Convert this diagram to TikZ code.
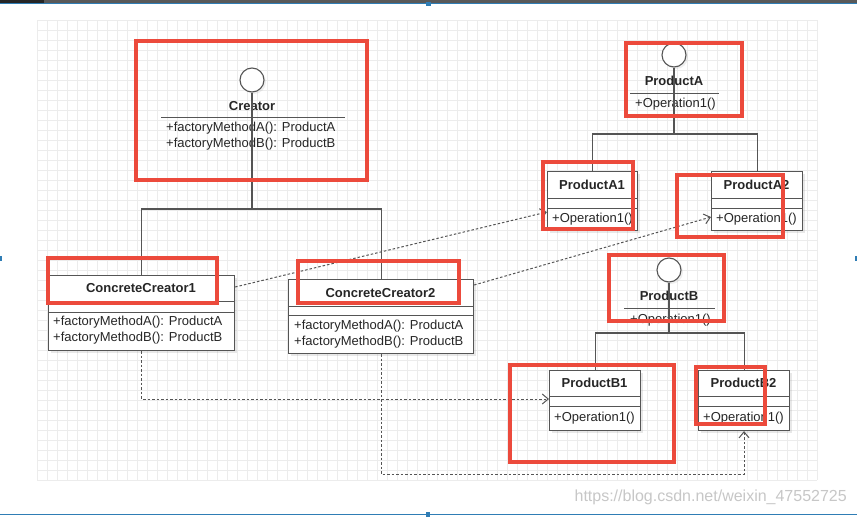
\documentclass[tikz,border=0pt]{standalone}
\usepackage{fontspec}
\setmainfont{Liberation Sans}
\usetikzlibrary{calc,arrows.meta,shadows}
\definecolor{redbox}{HTML}{EC4A3C}
\definecolor{linec}{HTML}{555555}
\definecolor{gridc}{HTML}{ECECEC}
\definecolor{uiblue}{HTML}{2F7DB5}
\tikzset{
 classbox/.style={draw=linec, line width=1.1pt, fill=white, rectangle, inner sep=0pt, anchor=north west,
   drop shadow={opacity=0.18, shadow xshift=2.5pt, shadow yshift=-2.5pt}},
 ifc/.style={circle, draw=linec, line width=1.1pt, fill=white, minimum size=24pt, inner sep=0pt,
   drop shadow={opacity=0.12, shadow xshift=2pt, shadow yshift=-2pt}},
 gen/.style={draw=linec, line width=1.1pt},
 sepline/.style={draw=linec, line width=1pt},
 dep/.style={draw=linec, line width=1pt, dash pattern=on 2.5pt off 2pt, -{Straight Barb[length=6pt,width=10pt]}},
 hl/.style={draw=redbox, line width=4pt},
 cname/.style={font=\fontsize{13}{15}\selectfont\bfseries, text=black!85, inner sep=0pt},
 cops/.style={font=\fontsize{13}{16}\selectfont, text=black!85, inner sep=0pt, align=left, anchor=west},
}
\begin{document}
\begin{tikzpicture}[x=1pt,y=-1pt]
\useasboundingbox (0,0) rectangle (857,517);
\fill[white] (0,0) rectangle (857,517);
% grid
\foreach \gx in {37,47,...,817} \draw[gridc, line width=0.5pt] (\gx,20) -- (\gx,480);
\foreach \gy in {20,30,...,480} \draw[gridc, line width=0.5pt] (37,\gy) -- (817,\gy);
% window frame
\fill[black!65] (0,0) rectangle (857,2.5);
\fill[black!85] (0,0) rectangle (44,2.5);
\draw[uiblue, line width=1pt] (0,3.5) -- (857,3.5);
\draw[uiblue, line width=1.5pt] (0,514.5) -- (857,514.5);
\fill[uiblue] (425.5,1.5) rectangle (430.5,6);
\fill[uiblue] (426,512) rectangle (430,517);
\fill[uiblue] (0,256) rectangle (2,261);
\fill[uiblue] (855,256) rectangle (857,261);

% ---------- classes ----------
\node[classbox, minimum width=186pt, minimum height=75pt] (cc1) at (48,275) {};
\draw[sepline] ($(cc1.north west)+(0,26)$) -- ($(cc1.north east)+(0,26)$);
\draw[sepline] ($(cc1.north west)+(0,37)$) -- ($(cc1.north east)+(0,37)$);
\node[cname] (cc1n) at (141,288) {ConcreteCreator1};
\node[cops] (cc1o) at (53,330) {+factoryMethodA(): ProductA\\+factoryMethodB(): ProductB};

\node[classbox, minimum width=185pt, minimum height=74pt] (cc2) at (288,279) {};
\draw[sepline] ($(cc2.north west)+(0,27)$) -- ($(cc2.north east)+(0,27)$);
\draw[sepline] ($(cc2.north west)+(0,36)$) -- ($(cc2.north east)+(0,36)$);
\node[cname] (cc2n) at (380.5,293) {ConcreteCreator2};
\node[cops] (cc2o) at (294,334) {+factoryMethodA(): ProductA\\+factoryMethodB(): ProductB};

\node[classbox, minimum width=90pt, minimum height=59pt] (pa1) at (547,171) {};
\draw[sepline] ($(pa1.north west)+(0,27)$) -- ($(pa1.north east)+(0,27)$);
\draw[sepline] ($(pa1.north west)+(0,37)$) -- ($(pa1.north east)+(0,37)$);
\node[cname] (pa1n) at (592,185) {ProductA1};
\node[cops] (pa1o) at (552,219.5) {+Operation1()};

\node[classbox, minimum width=91pt, minimum height=59pt] (pa2) at (711,171) {};
\draw[sepline] ($(pa2.north west)+(0,27)$) -- ($(pa2.north east)+(0,27)$);
\draw[sepline] ($(pa2.north west)+(0,37)$) -- ($(pa2.north east)+(0,37)$);
\node[cname] (pa2n) at (756.5,185) {ProductA2};
\node[cops] (pa2o) at (716,219.5) {+Operation1()};

\node[classbox, minimum width=91pt, minimum height=60pt] (pb1) at (549,370) {};
\draw[sepline] ($(pb1.north west)+(0,26)$) -- ($(pb1.north east)+(0,26)$);
\draw[sepline] ($(pb1.north west)+(0,36)$) -- ($(pb1.north east)+(0,36)$);
\node[cname] (pb1n) at (594.5,383) {ProductB1};
\node[cops] (pb1o) at (554,418) {+Operation1()};

\node[classbox, minimum width=91pt, minimum height=60pt] (pb2) at (698,370) {};
\draw[sepline] ($(pb2.north west)+(0,26)$) -- ($(pb2.north east)+(0,26)$);
\draw[sepline] ($(pb2.north west)+(0,36)$) -- ($(pb2.north east)+(0,36)$);
\node[cname] (pb2n) at (743.5,383) {ProductB2};
\node[cops] (pb2o) at (703,418) {+Operation1()};

% ---------- interfaces ----------
\node[ifc] (crc) at (252,80) {};
\node[cname] (crn) at (252,106) {Creator};
\draw[sepline] (161,117) -- (345,117);
\node[cops] (cro) at (166,136.5) {+factoryMethodA(): ProductA\\+factoryMethodB(): ProductB};

\node[ifc] (pac) at (674,55) {};
\node[cname] (pan) at (674,81) {ProductA};
\draw[sepline] (630,93) -- (719,93);
\node[cops] (pao) at (635,104) {+Operation1()};

\node[ifc] (pbc) at (669,270) {};
\node[cname] (pbn) at (669,296) {ProductB};
\draw[sepline] (624,308) -- (715,308);
\node[cops] (pbo) at (630,320) {+Operation1()};

% ---------- realization connectors ----------
\draw[gen] (crc.south) -- (crc.south |- 0,209);
\draw[gen] (cc1.north) -- ++(0,-66) -| (cc2.north);
\draw[gen] (pac.south) -- (pac.south |- 0,134);
\draw[gen] (pa1.north) -- ++(0,-37) -| (pa2.north);
\draw[gen] (pbc.south) -- (pbc.south |- 0,333);
\draw[gen] (pb1.north) -- ++(0,-37) -| (pb2.north);

% ---------- dependencies ----------
\draw[dep] ($(cc1.north east)+(0,12)$) -- ($(pa1.north west)+(0,41)$);
\draw[dep] ($(cc2.north east)+(0,6)$) -- ($(pa2.north west)+(0,46)$);
\draw[dep] (cc1.south) |- ($(pb1.north west)+(0,29)$);
\draw[dep] (cc2.south) -- ($(cc2.south)+(0,120)$) -| (pb2.south);

% ---------- red highlight boxes ----------
\draw[hl] (136,41) rectangle (367,180);
\draw[hl] (626,43) rectangle (742,116);
\draw[hl] (543,162) rectangle (633,229);
\draw[hl] (677,175) rectangle (783,237);
\draw[hl] (48,258) rectangle (217,303);
\draw[hl] (298,261) rectangle (459,303);
\draw[hl] (609,255) rectangle (724,321);
\draw[hl] (510,365) rectangle (674,462);
\draw[hl] (696,367) rectangle (765,424);

% watermark
\node[font=\fontsize{16}{16}\selectfont, text=black!22, anchor=east, inner sep=0pt] (wm) at (847,497) {https://blog.csdn.net/weixin\_47552725};
\end{tikzpicture}
\end{document}
